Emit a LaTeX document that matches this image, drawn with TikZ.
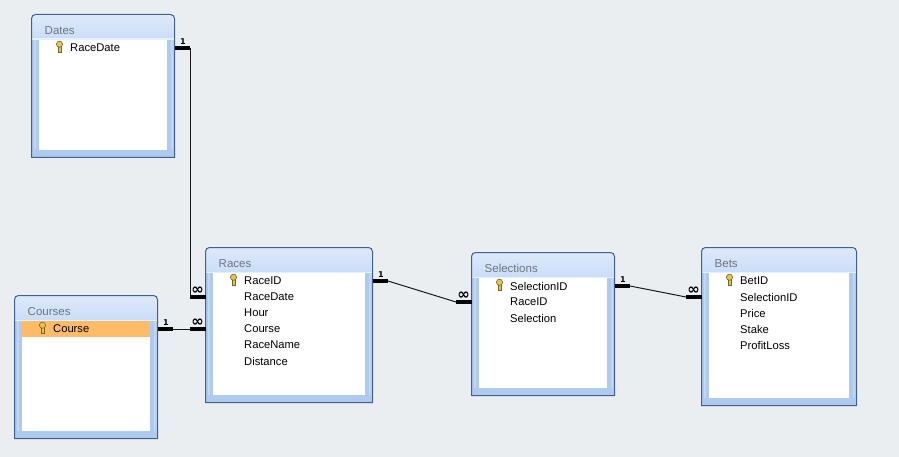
\documentclass[tikz,border=0pt]{standalone}
\usepackage{fontspec}
\setmainfont{Liberation Sans}
\newfontfamily\relfont{DejaVu Sans}
\usetikzlibrary{calc}
\definecolor{pagebg}{HTML}{EAEEF1}
\definecolor{tableline}{HTML}{3F6190}
\definecolor{tableside}{HTML}{AECAEE}
\definecolor{tablestrip}{HTML}{C2D6F1}
\definecolor{titletop}{HTML}{DDE9F9}
\definecolor{titlelow}{HTML}{C9DDF9}
\definecolor{titleedge}{HTML}{E6F0FC}
\definecolor{titletext}{HTML}{6F7480}
\definecolor{rowpick}{HTML}{FFBB66}
\definecolor{keygold}{HTML}{E3C652}
\definecolor{keyline}{HTML}{7A6420}
\tikzset{
  tablenode/.style={inner sep=0pt,outer sep=0pt,anchor=north west},
  titletxt/.style={inner sep=0pt,anchor=west,text=titletext,font=\fontsize{11.5}{12}\selectfont},
  fieldtxt/.style={inner sep=0pt,anchor=west,text=black,font=\fontsize{11.2}{12}\selectfont},
  stub/.style={line width=3.4pt},
  relline/.style={line width=1pt,black!90},
  endtxt/.style={inner sep=0pt,font=\relfont\bfseries\fontsize{8}{8}\selectfont},
  manytxt/.style={inner sep=0pt,font=\relfont\bfseries\fontsize{15}{15}\selectfont}
}
\begin{document}
\begin{tikzpicture}[x=1pt,y=-1pt]
  \useasboundingbox[fill=pagebg] (0,0) rectangle (899,457);
  % tables
  \foreach \name/\title/\xa/\ya/\xb/\yb in {dates/Dates/31.5/14.5/174.5/157.5,courses/Courses/14.5/295.5/157.5/438.5,races/Races/205.5/247.5/372.5/402.5,selections/Selections/471.5/252.5/614.5/395.5,bets/Bets/701.5/247.5/856.5/405.5} {
    \pgfmathsetmacro\tabw{\xb-\xa}
    \pgfmathsetmacro\tabh{\yb-\ya}
    \node[tablenode,minimum width=\tabw pt,minimum height=\tabh pt] (\name) at (\xa,\ya) {};
    \fill[tableside] (\xa,\yb) [rounded corners=4pt] -- (\xa,\ya) -- (\xb,\ya) [sharp corners] -- (\xb,\yb) -- cycle;
    \fill[tablestrip] (\xa+2,\ya+25) rectangle (\xa+4,\yb-8);
    \fill[tablestrip] (\xb-4,\ya+25) rectangle (\xb-2,\yb-8);
    \shade[top color=titletop,bottom color=titlelow] (\xa,\ya+25) [rounded corners=4pt] -- (\xa,\ya) -- (\xb,\ya) [sharp corners] -- (\xb,\ya+25) -- cycle;
    \fill[titleedge] (\xa,\ya+24) rectangle (\xb,\ya+25.5);
    \fill[white] (\xa+7.5,\ya+25.5) rectangle (\xb-7.5,\yb-7.5);
    \draw[tableline,line width=1pt] (\xa,\yb) [rounded corners=4pt] -- (\xa,\ya) -- (\xb,\ya) [sharp corners] -- (\xb,\yb) -- cycle;
    \node[titletxt] (\name-title) at (\xa+13,\ya+16) {\title};
  }
  \fill[rowpick] (22,321) rectangle (150,337);
  % fields, the first one of each table is the key
  \foreach \name/\xa/\ya/\fields in {dates/39/40/{RaceDate},courses/22/321/{Course},races/213/273/{RaceID,RaceDate,Hour,Course,RaceName,Distance},selections/479/278/{SelectionID,RaceID,Selection},bets/709/273/{BetID,SelectionID,Price,Stake,ProfitLoss}} {
    \foreach \f [count=\i] in \fields
      \node[fieldtxt] (\name-\i) at (\xa+31,\ya+16*\i-8) {\f};
    \begin{scope}[shift={(\xa+20.5,\ya+6)}]
      \draw[keyline,fill=keygold,line width=0.6pt] (-1.3,0.6) rectangle (1.3,6);
      \draw[keyline,fill=keygold,line width=0.6pt] (0,-1.8) circle (3.1);
      \draw[keyline,line width=0.7pt] (1.3,3.2) -- (2.6,3.2) (1.3,5) -- (2.6,5);
    \end{scope}
  }
  % relations
  \coordinate (datesOut) at (dates.east |- dates-1);
  \coordinate (racesInA) at (races.west |- races-2);
  \coordinate (coursesOut) at (courses.east |- courses-1);
  \coordinate (racesInB) at (races.west |- races-4);
  \coordinate (racesOut) at (races.east |- races-1);
  \coordinate (selectionsIn) at (selections.west |- selections-2);
  \coordinate (selectionsOut) at (selections.east |- selections-1);
  \coordinate (betsIn) at (bets.west |- bets-2);
  \foreach \from/\to in {datesOut/racesInA,coursesOut/racesInB,racesOut/selectionsIn,selectionsOut/betsIn} {
    \draw[stub] (\from) -- ++(15.5,0) coordinate (\from-end);
    \draw[stub] (\to) -- ++(-15.5,0) coordinate (\to-end);
    \draw[relline] (\from-end) -- (\to-end);
    \node[endtxt] (\from-one) at ($(\from)+(8.5,-6)$) {1};
    \node[manytxt] (\to-many) at ($(\to)+(-8,-6.5)$) {∞};
  }
\end{tikzpicture}
\end{document}
